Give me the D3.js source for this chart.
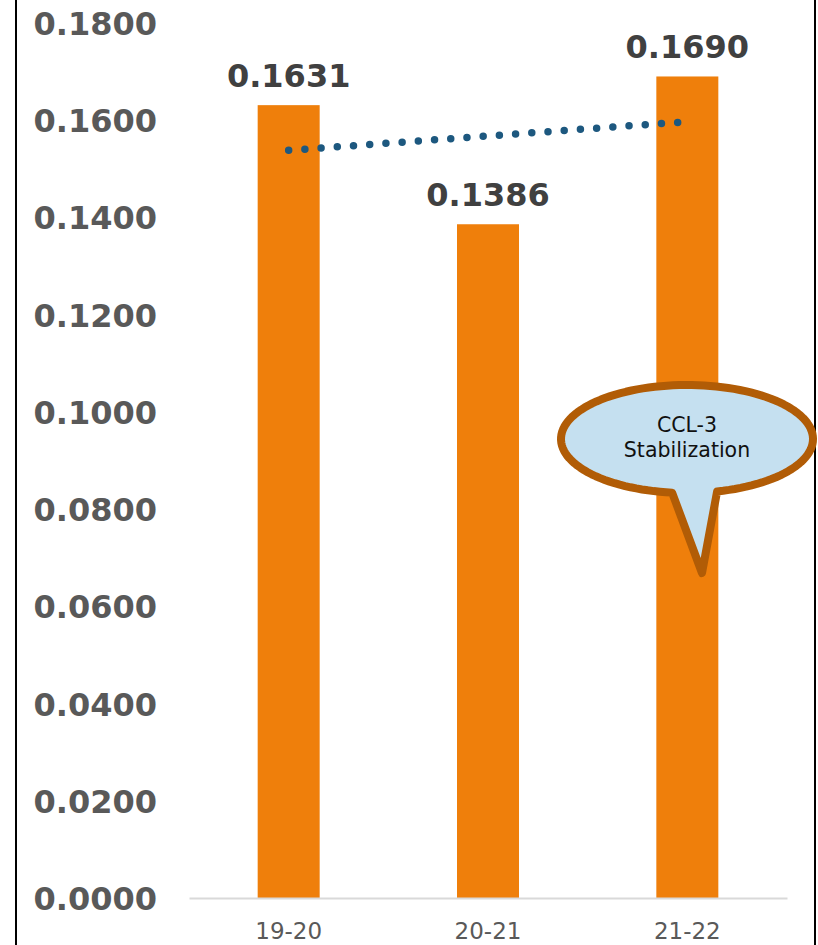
<!DOCTYPE html>
<html><head><meta charset="utf-8">
<script src="https://cdn.jsdelivr.net/npm/d3@7"></script>
<style>html,body{margin:0;padding:0;background:#fff;}svg{display:block;}</style>
</head><body>
<script>
const categories = ["19-20", "20-21", "21-22"];
const values = [0.1631, 0.1386, 0.1690];
const yTicks = [0, 0.02, 0.04, 0.06, 0.08, 0.10, 0.12, 0.14, 0.16, 0.18];
const trendValues = [0.1538, 0.1597];
const calloutLines = ["CCL-3", "Stabilization"];

const W = 818, H = 945;
const svg = d3.select("body").append("svg").attr("width", W).attr("height", H);

const x = d3.scaleBand().domain(categories).range([189, 787]).paddingInner(0.689).paddingOuter(0.3445);
const y = d3.scaleLinear().domain([0, 0.18]).range([898, 23]);

// frame
svg.append("line").attr("x1", 16).attr("x2", 16).attr("y1", 0).attr("y2", H).attr("stroke", "#000").attr("stroke-width", 2);
svg.append("line").attr("x1", 815).attr("x2", 815).attr("y1", 0).attr("y2", H).attr("stroke", "#000").attr("stroke-width", 2);

// y axis labels
const yAxis = d3.axisLeft(y).tickValues(yTicks).tickFormat(d3.format(".4f")).tickSize(0).tickPadding(0);
const gy = svg.append("g").attr("transform", "translate(157,0)").call(yAxis);
gy.select(".domain").remove();
gy.selectAll("text").attr("font-family", "DejaVu Sans").attr("font-weight", "bold")
  .attr("font-size", 32).attr("fill", "#595959").attr("dy", "0.36em");

// bars
svg.append("g").selectAll("rect").data(values).join("rect")
  .attr("x", (d, i) => x(categories[i])).attr("width", x.bandwidth())
  .attr("y", d => y(d)).attr("height", d => y(0) - y(d))
  .attr("fill", "#ef7f0b");

// x axis
const xAxis = d3.axisBottom(x).tickSize(0).tickPadding(0);
const gx = svg.append("g").attr("transform", `translate(0,${y(0)})`).call(xAxis);
gx.select(".domain").attr("stroke", "#d9d9d9").attr("stroke-width", 2);
gx.selectAll("text").attr("font-family", "DejaVu Sans").attr("font-size", 23)
  .attr("fill", "#595959").attr("dy", null).attr("y", 41);

// data labels
svg.append("g").selectAll("text").data(values).join("text")
  .attr("x", (d, i) => x(categories[i]) + x.bandwidth() / 2)
  .attr("y", d => y(d) - 18)
  .attr("text-anchor", "middle").attr("font-family", "DejaVu Sans").attr("font-weight", "bold")
  .attr("font-size", 32).attr("fill", "#404040").text(d => d3.format(".4f")(d));

// trendline
const c0 = x(categories[0]) + x.bandwidth() / 2, c2 = x(categories[2]) + x.bandwidth() / 2;
svg.append("path")
  .attr("d", d3.line()([[c0, y(trendValues[0])], [c2, y(trendValues[1])]]))
  .attr("stroke", "#1d587f").attr("stroke-width", 7.5).attr("stroke-linecap", "round")
  .attr("stroke-dasharray", "0 16.25").attr("fill", "none");

// callout
const cx = 687, cy = 439, rx = 126, ry = 54;
const tailL = [672, 493], tailR = [718, 493], tip = [702, 573];
const aL = Math.atan2((tailL[1] - cy) / ry, (tailL[0] - cx) / rx);
const aR = Math.atan2((tailR[1] - cy) / ry, (tailR[0] - cx) / rx);
const N = 120;
const pathPts = [];
const a0 = aR, a1 = aL - 2 * Math.PI;
for (let k = 0; k <= N; k++) {
  const a = a0 + (a1 - a0) * k / N;
  pathPts.push([cx + rx * Math.cos(a), cy + ry * Math.sin(a)]);
}
pathPts.push(tip);
svg.append("path").attr("d", d3.line()(pathPts) + "Z")
  .attr("fill", "#c5e0f0").attr("stroke", "#b15c06").attr("stroke-width", 8).attr("stroke-linejoin", "round");
svg.append("text").attr("text-anchor", "middle").attr("font-family", "DejaVu Sans").attr("font-size", 20.5).attr("fill", "#111")
  .selectAll("tspan").data(calloutLines).join("tspan")
  .attr("x", cx).attr("y", (d, i) => 432 + i * 25).text(d => d);
</script>
</body></html>
